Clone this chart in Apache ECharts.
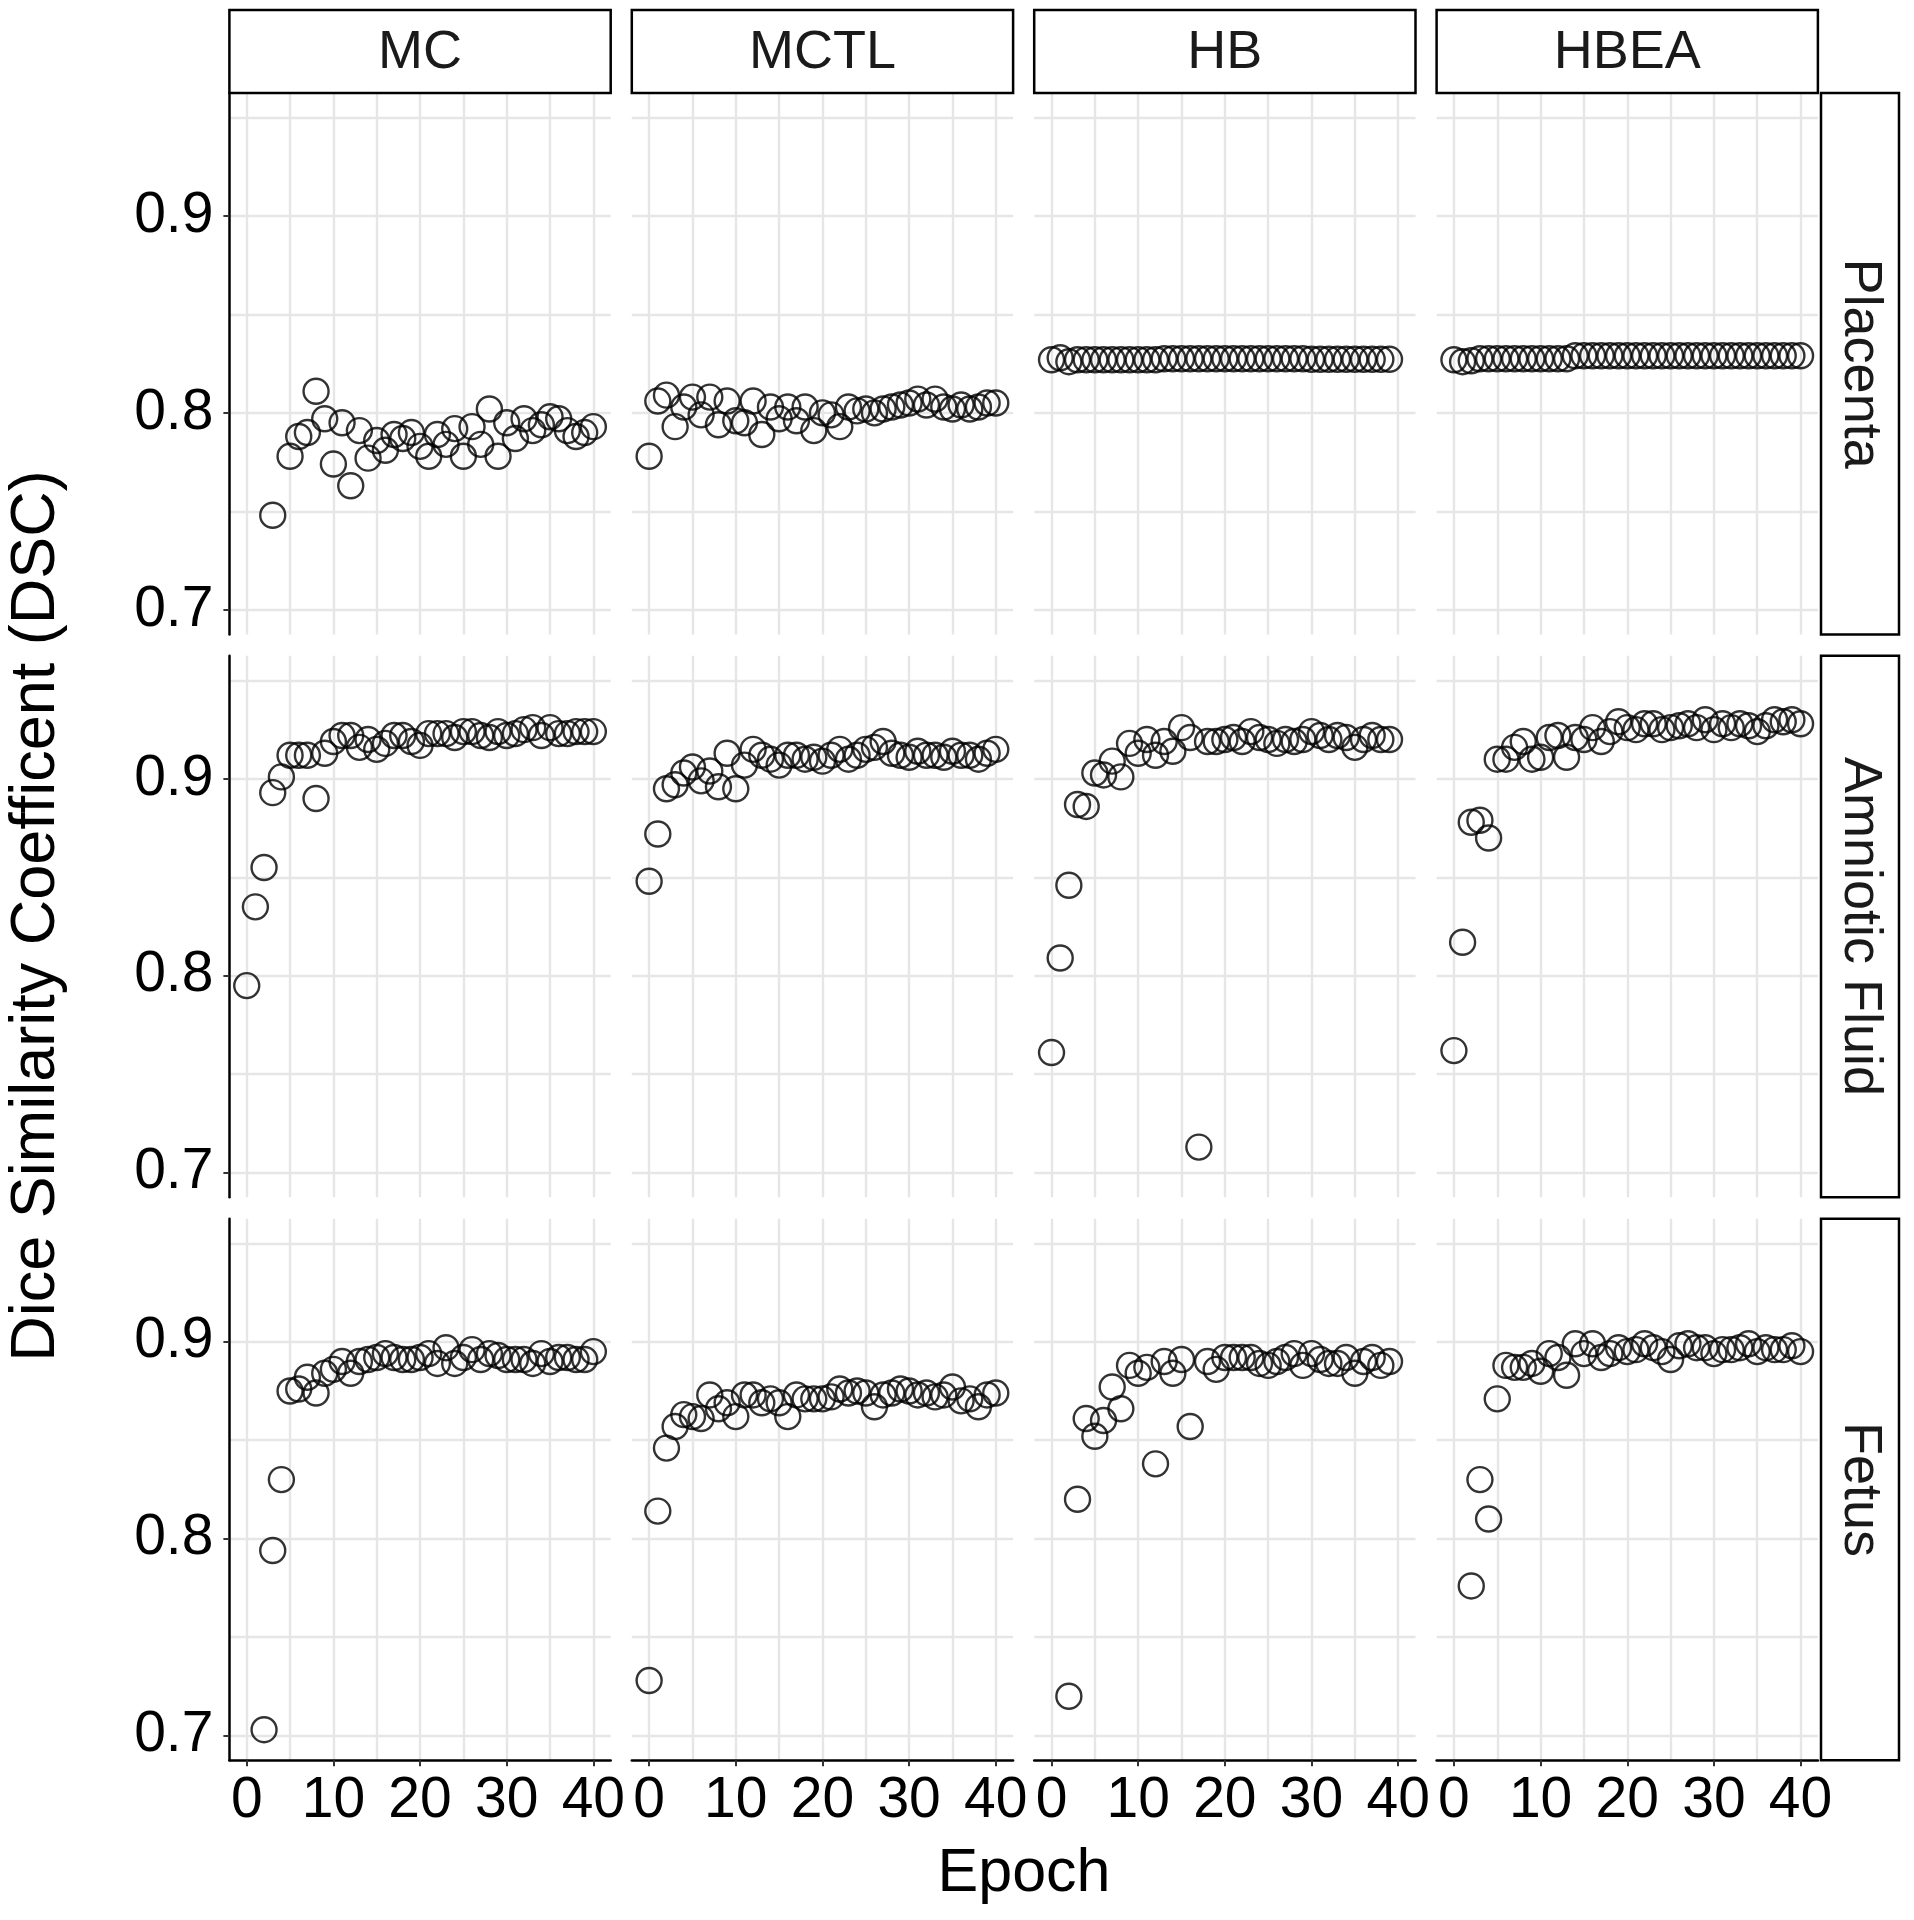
<!DOCTYPE html>
<html><head><meta charset="utf-8">
<script src="https://cdn.jsdelivr.net/npm/echarts@6/dist/echarts.min.js"></script>
<style>html,body{margin:0;padding:0;background:#fff}#c{width:1914px;height:1920px}</style>
</head><body><div id="c"></div>
<script>
// ---------- data ----------
const colLabels = ['MC', 'MCTL', 'HB', 'HBEA'];
const rowLabels = ['Placenta', 'Amniotic Fluid', 'Fetus'];
const xMajorTicks = [0, 10, 20, 30, 40];
const xGridTicks = [0, 5, 10, 15, 20, 25, 30, 35, 40];
const yMajorTicks = [0.7, 0.8, 0.9];
const yGridTicks = [0.7, 0.75, 0.8, 0.85, 0.9, 0.95];
const xTitle = 'Epoch';
const yTitle = 'Dice Similarity Coefficent (DSC)';

const epochs0to40 = [0,1,2,3,4,5,6,7,8,9,10,11,12,13,14,15,16,17,18,19,20,21,22,23,24,25,26,27,28,29,30,31,32,33,34,35,36,37,38,39,40];
const epochs0to39 = [0,1,2,3,4,5,6,7,8,9,10,11,12,13,14,15,16,17,18,19,20,21,22,23,24,25,26,27,28,29,30,31,32,33,34,35,36,37,38,39];
const epochs2to40 = [2,3,4,5,6,7,8,9,10,11,12,13,14,15,16,17,18,19,20,21,22,23,24,25,26,27,28,29,30,31,32,33,34,35,36,37,38,39,40];
const mcPlacentaEpochs = [3,5,6,7,8,9,10,11,12,13,14,15,16,17,18,19,20,21,22,23,24,25,26,27,28,29,30,31,32,33,34,35,36,37,38,39,40];
const hbFetusEpochs = [2,3,4,5,6,7,8,9,10,11,12,13,14,15,16,18,19,20,21,22,23,24,25,26,27,28,29,30,31,32,33,34,35,36,37,38,39];

const mcPlacentaDSC = [0.748,0.778,0.788,0.790,0.811,0.797,0.774,0.795,0.763,0.791,0.777,0.786,0.781,0.789,0.787,0.790,0.783,0.778,0.789,0.784,0.792,0.778,0.793,0.784,0.802,0.778,0.795,0.787,0.797,0.791,0.794,0.798,0.797,0.791,0.788,0.790,0.793];
const mctlPlacentaDSC = [0.778,0.806,0.809,0.793,0.803,0.808,0.799,0.808,0.794,0.806,0.796,0.795,0.806,0.789,0.803,0.797,0.803,0.796,0.803,0.791,0.800,0.799,0.793,0.803,0.801,0.802,0.800,0.802,0.803,0.804,0.805,0.807,0.804,0.807,0.803,0.802,0.804,0.802,0.803,0.805,0.805];
const hbPlacentaDSC = [0.827,0.828,0.826,0.827,0.827,0.827,0.827,0.827,0.827,0.827,0.827,0.827,0.827,0.8275,0.8275,0.8275,0.8275,0.8275,0.8275,0.8275,0.8275,0.8275,0.8275,0.8275,0.8275,0.8275,0.8275,0.8275,0.8275,0.8275,0.8272,0.8272,0.8272,0.8272,0.8272,0.8272,0.8272,0.8272,0.8272,0.8272];
const hbeaPlacentaDSC = [0.827,0.826,0.8265,0.8275,0.8275,0.8275,0.8275,0.8275,0.8275,0.8275,0.8275,0.8275,0.8275,0.8275,0.829,0.829,0.829,0.829,0.829,0.829,0.829,0.829,0.829,0.829,0.829,0.829,0.829,0.829,0.829,0.829,0.829,0.829,0.829,0.829,0.829,0.829,0.829,0.829,0.829,0.829,0.829];

const mcAmnioticDSC = [0.795,0.835,0.855,0.893,0.901,0.912,0.912,0.912,0.890,0.913,0.919,0.922,0.922,0.916,0.920,0.915,0.918,0.922,0.922,0.919,0.917,0.923,0.923,0.923,0.921,0.924,0.924,0.922,0.921,0.924,0.922,0.923,0.925,0.926,0.922,0.926,0.923,0.923,0.924,0.924,0.924];
const mctlAmnioticDSC = [0.848,0.872,0.895,0.897,0.903,0.906,0.899,0.904,0.896,0.913,0.895,0.907,0.915,0.912,0.910,0.907,0.912,0.912,0.910,0.911,0.909,0.912,0.915,0.910,0.912,0.915,0.916,0.919,0.913,0.912,0.911,0.914,0.912,0.912,0.911,0.914,0.912,0.912,0.910,0.913,0.915];
const hbAmnioticDSC = [0.761,0.809,0.846,0.887,0.886,0.903,0.902,0.909,0.901,0.918,0.913,0.920,0.912,0.919,0.914,0.926,0.921,0.713,0.919,0.919,0.920,0.921,0.919,0.924,0.921,0.920,0.918,0.920,0.919,0.920,0.924,0.922,0.920,0.922,0.921,0.916,0.920,0.922,0.920,0.920];
const hbeaAmnioticDSC = [0.762,0.817,0.878,0.879,0.870,0.910,0.910,0.916,0.919,0.910,0.911,0.921,0.922,0.911,0.921,0.920,0.926,0.919,0.924,0.929,0.926,0.925,0.928,0.928,0.925,0.926,0.927,0.928,0.926,0.930,0.925,0.928,0.926,0.928,0.927,0.924,0.927,0.930,0.929,0.930,0.928];

const mcFetusDSC = [0.703,0.794,0.830,0.875,0.876,0.882,0.874,0.884,0.886,0.890,0.884,0.890,0.891,0.892,0.894,0.892,0.891,0.891,0.892,0.894,0.889,0.897,0.889,0.892,0.896,0.891,0.894,0.893,0.891,0.891,0.891,0.889,0.894,0.890,0.892,0.892,0.891,0.891,0.895];
const mctlFetusDSC = [0.728,0.814,0.846,0.857,0.863,0.862,0.861,0.873,0.866,0.869,0.862,0.873,0.873,0.869,0.871,0.869,0.862,0.873,0.871,0.871,0.871,0.872,0.876,0.874,0.875,0.874,0.867,0.873,0.874,0.876,0.875,0.873,0.874,0.872,0.873,0.877,0.870,0.871,0.867,0.873,0.874];
const hbFetusDSC = [0.720,0.820,0.861,0.852,0.860,0.877,0.866,0.888,0.884,0.887,0.838,0.890,0.884,0.891,0.857,0.890,0.886,0.892,0.892,0.892,0.892,0.889,0.888,0.890,0.892,0.894,0.888,0.894,0.891,0.889,0.889,0.892,0.884,0.890,0.892,0.888,0.890];
const hbeaFetusDSC = [0.776,0.830,0.810,0.871,0.888,0.887,0.887,0.889,0.885,0.894,0.892,0.883,0.899,0.894,0.899,0.892,0.894,0.897,0.895,0.896,0.899,0.897,0.895,0.891,0.898,0.899,0.897,0.897,0.894,0.896,0.896,0.897,0.899,0.895,0.897,0.896,0.896,0.898,0.895];

// panel table (rows x columns) built from the named arrays
const panels = [
  [[mcPlacentaEpochs, mcPlacentaDSC], [epochs0to40, mctlPlacentaDSC], [epochs0to39, hbPlacentaDSC], [epochs0to40, hbeaPlacentaDSC]],
  [[epochs0to40, mcAmnioticDSC], [epochs0to40, mctlAmnioticDSC], [epochs0to39, hbAmnioticDSC], [epochs0to40, hbeaAmnioticDSC]],
  [[epochs2to40, mcFetusDSC], [epochs0to40, mctlFetusDSC], [hbFetusEpochs, hbFetusDSC], [epochs2to40, hbeaFetusDSC]]
];

// ---------- layout ----------
const FONT = '"Liberation Sans", Arial, Helvetica, sans-serif';
const L0 = 229.4, DX = 402.4, PW = 381.3;
const T0 = 92.9, DY = 562.9, PH = 541.5;
const X_MIN = -2, X_MAX = 42, Y_MIN = 0.6875, Y_MAX = 0.9625;
const GRID_COLOR = '#E6E6E6';
const TICK_FS = 57, STRIP_FS = 54, TITLE_FS = 61;

const grids = [], xAxes = [], yAxes = [], series = [], graphics = [];
for (let r = 0; r < 3; r++) {
  for (let c = 0; c < 4; c++) {
    const gi = grids.length;
    grids.push({ left: L0 + c * DX, top: T0 + r * DY, width: PW, height: PH, containLabel: false });
    // grid-line axes
    xAxes.push({ gridIndex: gi, type: 'value', min: X_MIN, max: X_MAX, position: 'top',
      axisLine: { show: false }, axisLabel: { show: false },
      axisTick: { show: false, customValues: xGridTicks },
      splitLine: { show: true, lineStyle: { color: GRID_COLOR, width: 2.4 } } });
    yAxes.push({ gridIndex: gi, type: 'value', min: Y_MIN, max: Y_MAX, position: 'right',
      axisLine: { show: false }, axisLabel: { show: false },
      axisTick: { show: false, customValues: yGridTicks },
      splitLine: { show: true, lineStyle: { color: GRID_COLOR, width: 2.4 } } });
    // label axes
    const bottom = r === 2, left = c === 0;
    xAxes.push({ gridIndex: gi, type: 'value', min: X_MIN, max: X_MAX, position: 'bottom',
      axisLine: { show: bottom, onZero: false, lineStyle: { color: '#000', width: 2.5 } },
      axisTick: { show: bottom, customValues: xMajorTicks, length: 6, lineStyle: { color: '#333', width: 2 } },
      axisLabel: { show: bottom, customValues: xMajorTicks, fontSize: TICK_FS, color: '#000', margin: 13, fontFamily: FONT },
      splitLine: { show: false } });
    yAxes.push({ gridIndex: gi, type: 'value', min: Y_MIN, max: Y_MAX, position: 'left',
      axisLine: { show: left, onZero: false, lineStyle: { color: '#000', width: 2.5 } },
      axisTick: { show: left, customValues: yMajorTicks, length: 6, lineStyle: { color: '#333', width: 2 } },
      axisLabel: { show: left, customValues: yMajorTicks, fontSize: TICK_FS, color: '#000', margin: 16, fontFamily: FONT,
        formatter: v => v.toFixed(1) },
      splitLine: { show: false } });
    const [ep, val] = panels[r][c];
    series.push({ type: 'scatter', xAxisIndex: gi * 2 + 1, yAxisIndex: gi * 2 + 1,
      data: ep.map((e, i) => [e, val[i]]),
      symbol: 'circle', symbolSize: 25, silent: true,
      itemStyle: { color: 'rgba(0,0,0,0)', borderColor: '#000', borderWidth: 2.4 } });
  }
}

// strips
const STRIP_TOP = 10;
for (let c = 0; c < 4; c++) {
  const x = L0 + c * DX;
  graphics.push({ type: 'rect', shape: { x: x, y: STRIP_TOP, width: PW, height: T0 - STRIP_TOP },
    style: { fill: '#fff', stroke: '#000', lineWidth: 2.5 }, z: 10 });
  graphics.push({ type: 'text', x: x + PW / 2, y: (STRIP_TOP + T0) / 2 + 2, z: 11,
    style: { text: colLabels[c], fontSize: STRIP_FS, fontFamily: FONT, fill: '#1a1a1a',
      align: 'center', verticalAlign: 'middle', textAlign: 'center', textVerticalAlign: 'middle' } });
}
const RS_X = 1821, RS_W = 78;
for (let r = 0; r < 3; r++) {
  const y = T0 + r * DY;
  graphics.push({ type: 'rect', shape: { x: RS_X, y: y, width: RS_W, height: PH },
    style: { fill: '#fff', stroke: '#000', lineWidth: 2.5 }, z: 10 });
  graphics.push({ type: 'text', x: RS_X + RS_W / 2, y: y + PH / 2, rotation: -Math.PI / 2, z: 11,
    style: { text: rowLabels[r], fontSize: STRIP_FS, fontFamily: FONT, fill: '#1a1a1a',
      align: 'center', verticalAlign: 'middle', textAlign: 'center', textVerticalAlign: 'middle' } });
}
// axis titles
graphics.push({ type: 'text', x: 1024, y: 1874, z: 11,
  style: { text: xTitle, fontSize: TITLE_FS, fontFamily: FONT, fill: '#000',
    align: 'center', verticalAlign: 'middle', textAlign: 'center', textVerticalAlign: 'middle' } });
graphics.push({ type: 'text', x: 37, y: 916, rotation: Math.PI / 2, z: 11,
  style: { text: yTitle, fontSize: 63, fontFamily: FONT, fill: '#000',
    align: 'center', verticalAlign: 'middle', textAlign: 'center', textVerticalAlign: 'middle' } });

const chart = echarts.init(document.getElementById('c'), null, { renderer: 'canvas' });
chart.setOption({
  animation: false,
  backgroundColor: '#fff',
  grid: grids, xAxis: xAxes, yAxis: yAxes, series: series,
  graphic: { elements: graphics }
});
</script></body></html>
